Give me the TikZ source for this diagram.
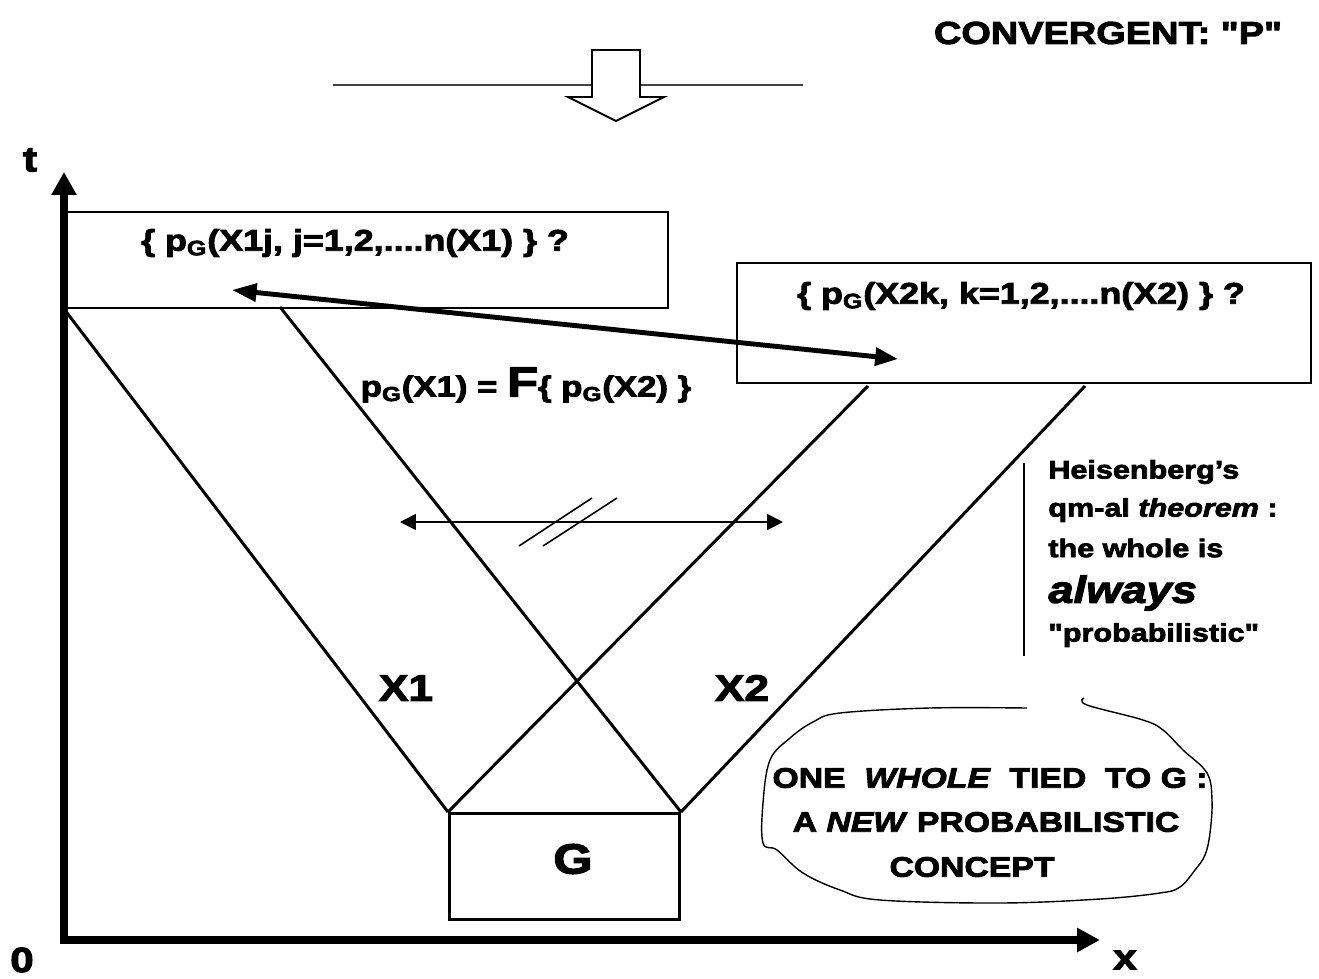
\documentclass[tikz,border=0pt]{standalone}
\usepackage{fontspec}
\setmainfont{Liberation Sans}[UprightFont=* Bold, ItalicFont=* Bold Italic,
  Ligatures=TeXOff, FakeStretch=1.2, FakeBold=3]
\usetikzlibrary{arrows.meta, positioning, calc}

\newcommand{\txtsize}[1]{\fontsize{#1}{#1}\selectfont}
\newcommand{\pG}{p\textsubscript{G}}

\begin{document}
\begin{tikzpicture}[x=0.02cm, y=-0.02cm,
    frame/.style={draw, line width=1.1pt, inner sep=0pt},
    txt/.style={inner sep=0pt},
    ray/.style={line width=1.7pt},
    axis/.style={line width=4.5pt,
                 {Triangle[length=13pt,width=13.5pt]}-{Triangle[length=13pt,width=13pt]}},
    bigarr/.style={line width=2.8pt,
                   {Triangle[length=14pt,width=10pt]}-{Triangle[length=13pt,width=10pt]}},
    thinarr/.style={line width=1.1pt,
                    {Triangle[length=9pt,width=9pt]}-{Triangle[length=9pt,width=9pt]}}
  ]
  \useasboundingbox[fill=white] (0,0) rectangle (1319,978);

  % axes
  \coordinate (O) at (64,940);
  \coordinate (ttip) at (64,172);
  \coordinate (xtip) at (1100,940);
  \draw[axis] (ttip) -- (O) -- (xtip);
  \node[txt, font=\txtsize{20}] (tlab) at (30,160) {t};
  \node[txt, font=\txtsize{20}] (olab) at (22,960) {0};
  \node[txt, font=\txtsize{20}] (xlab) at (1125,960) {x};

  % title and incoming arrow
  \node[txt, font=\txtsize{18}] (title) at (1108,33) {CONVERGENT: "P"};
  \coordinate (hl) at (333,85);
  \coordinate (hr) at (803,85);
  \draw[line width=1pt, black!75] (hl) -- (hr);
  \draw[line width=1.1pt, fill=white] (592,50) -- (640,50) -- (640,97) -- (664,97)
       -- (616,121) -- (568,97) -- (592,97) -- cycle;

  % the two sets
  \node[frame, minimum width=12.06cm, minimum height=1.92cm, anchor=north west]
       (box1) at (64,211) {};
  \node[txt, font=\txtsize{17}] (set1) at (355,243)
       {\{ \pG(X1j, j=1,2,....n(X1) \} ?};
  \node[frame, minimum width=11.48cm, minimum height=2.4cm, anchor=north west]
       (box2) at (736,262) {};
  \node[txt, font=\txtsize{17}] (set2) at (1021,296)
       {\{ \pG(X2k, k=1,2,....n(X2) \} ?};

  % source G
  \node[frame, line width=1.7pt, minimum width=4.6cm, minimum height=2.12cm,
        anchor=north west] (G) at (448,812) {};
  \node[txt, font=\txtsize{24}] (glab) at (573,859) {G};

  % rays
  \coordinate (r1) at (280,307);
  \coordinate (r2) at (868,386);
  \coordinate (r3) at (1085,386);
  \draw[ray] (box1.south west) -- (G.north west);
  \draw[ray] (r1) -- (G.north east);
  \draw[ray] (r2) -- (G.north west);
  \draw[ray] (r3) -- (G.north east);

  % exchange between the sets
  \coordinate (p1) at (232,290);
  \coordinate (p2) at (898,359);
  \draw[bigarr] (p1) -- (p2);
  \node[txt, font=\txtsize{16.5}] (rel) at (526,385)
       {\pG(X1) = {\txtsize{24}F}\{ \pG(X2) \}};

  % no separation
  \coordinate (sl) at (400,522);
  \coordinate (sr) at (783,522);
  \draw[thinarr] (sl) -- (sr);
  \draw[line width=0.9pt] (519,546) -- (592,498) (543,546) -- (617,498);

  \node[txt, font=\txtsize{21}] (x1) at (406,688) {X1};
  \node[txt, font=\txtsize{21}] (x2) at (742,688) {X2};

  % statement
  \draw[line width=0.9pt] (1024,463) -- (1024,656);
  \node[txt, anchor=west, font=\txtsize{14.5}] (h1) at (1048,472) {Heisenberg’s};
  \node[txt, anchor=west, font=\txtsize{14.5}] (h2) at (1048,510) {qm-al \textit{theorem} :};
  \node[txt, anchor=west, font=\txtsize{14.5}] (h3) at (1048,548) {the whole is};
  \node[txt, anchor=west, font=\txtsize{21.5}\itshape] (h4) at (1048,593) {always};
  \node[txt, anchor=west, font=\txtsize{14.5}] (h5) at (1048,635) {"probabilistic"};

  % cloud
  \draw[line width=0.8pt] plot[smooth, tension=0.6] coordinates {
    (1027,708) (930,708) (840,713) (813,722) (790,738) (770,760) (763,803)
    (763,843) (777,850) (803,873) (840,890) (880,900) (1000,903) (1100,899)
    (1160,893) (1180,887) (1195,870) (1205,855) (1210,833) (1212,800)
    (1207,773) (1183,750) (1163,730) (1143,720) (1087,705) (1084,698)};
  \node[txt, font=\txtsize{16}] (c1) at (990,778) {ONE \ \textit{WHOLE} \ TIED \ TO G :};
  \node[txt, font=\txtsize{16}] (c2) at (986,822) {A \textit{NEW} PROBABILISTIC};
  \node[txt, font=\txtsize{16}] (c3) at (972,867) {CONCEPT};
\end{tikzpicture}
\end{document}
